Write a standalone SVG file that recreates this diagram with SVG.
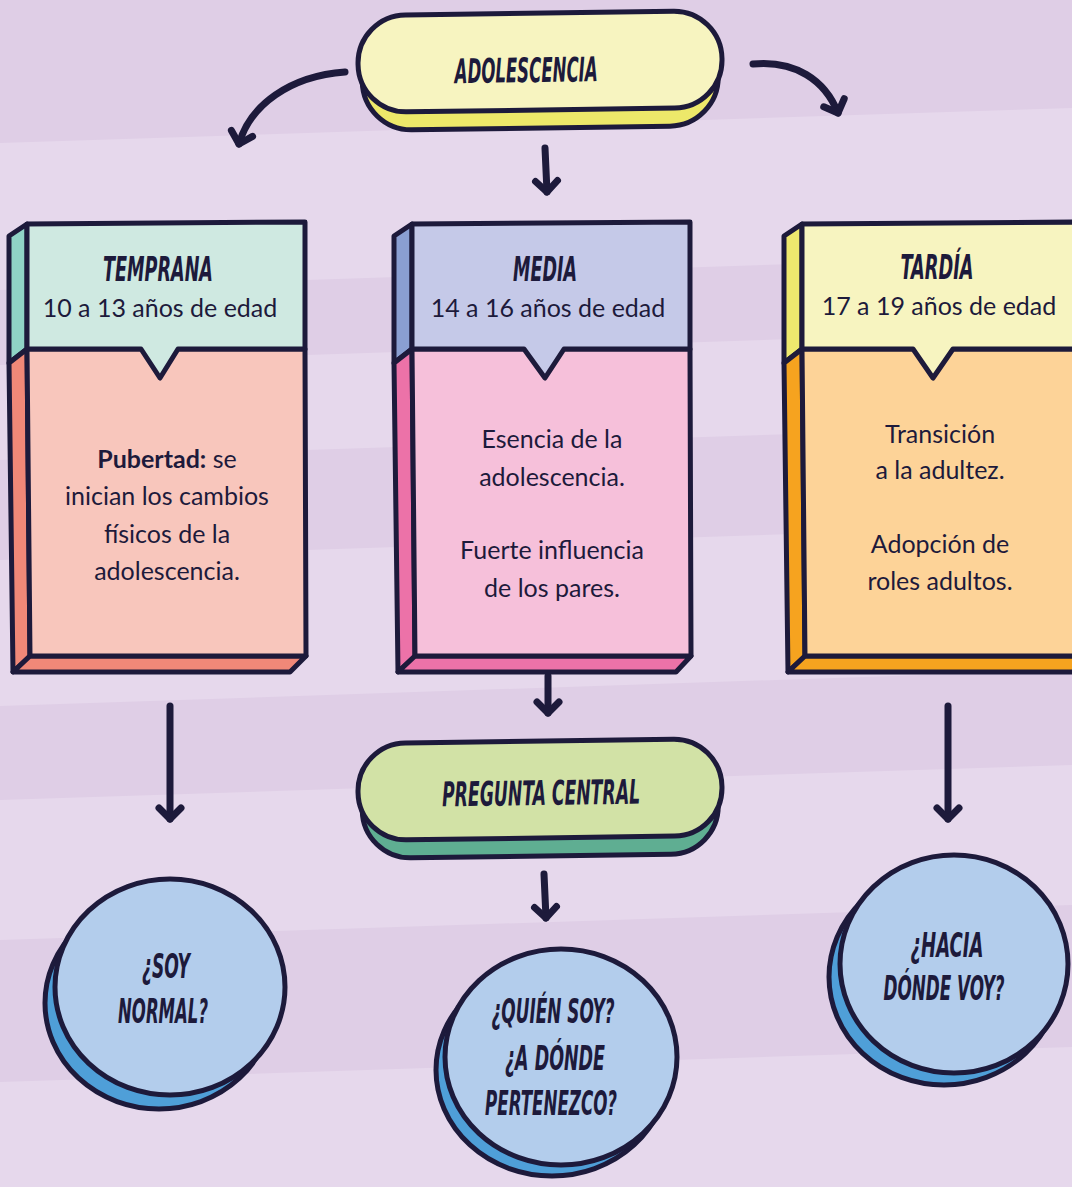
<svg xmlns="http://www.w3.org/2000/svg" width="1072" height="1187" viewBox="0 0 1072 1187">
<defs>
<style>
.st{stroke:#1d1a3b;stroke-width:5;stroke-linejoin:round;stroke-linecap:round}
.h{font-family:"DejaVu Sans Condensed","DejaVu Sans",sans-serif;font-weight:bold;font-style:oblique;font-size:34px;fill:#1d1a3b;text-anchor:middle}
.b{font-family:Lato,"Open Sans",sans-serif;font-size:25px;fill:#1d1a3b;text-anchor:middle}
.bb{font-weight:bold}
.arr{fill:none;stroke:#1d1a3b;stroke-width:7;stroke-linecap:round;stroke-linejoin:round}
.band{fill:#e6d8ec}
</style>
<marker id="chev" viewBox="-16 -16 20 32" refX="0" refY="0" markerWidth="20" markerHeight="32" markerUnits="userSpaceOnUse" orient="auto" overflow="visible">
<path d="M-11,-11 L0,0 L-11,11" fill="none" stroke="#1d1a3b" stroke-width="7" stroke-linecap="round" stroke-linejoin="round"/>
</marker>
</defs>
<rect x="0" y="0" width="1072" height="1187" fill="#dfcee6"/>
<polygon class="band" points="0,143 1072,108 1072,255 0,290"/>
<polygon class="band" points="0,365 1072,330 1072,425 0,460"/>
<polygon class="band" points="0,560 1072,525 1072,670 0,706"/>
<polygon class="band" points="0,800 1072,765 1072,905 0,940"/>
<polygon class="band" points="0,1082 1072,1047 1072,1187 0,1187"/>

<g id="connectors">
<path class="arr" d="M345,72 C290,76 250,105 239,144" marker-end="url(#chev)"/>
<path class="arr" d="M753,64 C795,60 825,80 838,113" marker-end="url(#chev)"/>
<path class="arr" d="M545,148 L547,192" marker-end="url(#chev)"/>
<path class="arr" d="M170,706 L170,819" marker-end="url(#chev)"/>
<path class="arr" d="M548,676 L548,713" marker-end="url(#chev)"/>
<path class="arr" d="M948,706 L948,819" marker-end="url(#chev)"/>
<path class="arr" d="M544,874 L546,918" marker-end="url(#chev)"/>
</g>

<g id="adolescencia" transform="rotate(-0.8 540 60)">
<rect class="st" x="362" y="30" width="356" height="98" rx="49" fill="#ede86a"/>
<rect class="st" x="358" y="13" width="364" height="97" rx="48" fill="#f7f4c0"/>
<text class="h" x="526" y="82" textLength="143" lengthAdjust="spacingAndGlyphs">ADOLESCENCIA</text>
</g>

<g id="temprana">
<polygon class="st" points="27,224 9,236 9,363 27,349" fill="#90d3c6"/>
<polygon class="st" points="27,349 9,363 13,672 30,656" fill="#f08878"/>
<polygon class="st" points="30,656 13,672 290,672 306,656" fill="#f08878"/>
<polygon class="st" points="27,349 305,349 306,656 30,656" fill="#f8c6bc"/>
<polygon class="st" points="27,224 305,222 305,349 178,349 160,378 141,349 27,349" fill="#cfe9e1"/>
<text class="h" x="158" y="281" textLength="110" lengthAdjust="spacingAndGlyphs">TEMPRANA</text>
<text class="b" x="160" y="317">10 a 13 años de edad</text>
<text class="b" x="167" y="468"><tspan class="bb">Pubertad:</tspan> se</text>
<text class="b" x="167" y="505">inician los cambios</text>
<text class="b" x="167" y="543">físicos de la</text>
<text class="b" x="167" y="580">adolescencia.</text>
</g>

<g id="media">
<polygon class="st" points="412,224 394,236 394,363 412,349" fill="#8a9fd2"/>
<polygon class="st" points="412,349 394,363 398,672 415,656" fill="#ec72a8"/>
<polygon class="st" points="415,656 398,672 676,672 691,656" fill="#ec72a8"/>
<polygon class="st" points="412,349 690,349 691,656 415,656" fill="#f6c0da"/>
<polygon class="st" points="412,224 690,222 690,349 564,349 545,378 524,349 412,349" fill="#c5c9e8"/>
<text class="h" x="545" y="281" textLength="64" lengthAdjust="spacingAndGlyphs">MEDIA</text>
<text class="b" x="548" y="317">14 a 16 años de edad</text>
<text class="b" x="552" y="448">Esencia de la</text>
<text class="b" x="552" y="486">adolescencia.</text>
<text class="b" x="552" y="559">Fuerte influencia</text>
<text class="b" x="552" y="597">de los pares.</text>
</g>

<g id="tardia">
<polygon class="st" points="802,224 784,236 784,363 802,349" fill="#eee86e"/>
<polygon class="st" points="802,349 784,363 788,672 805,656" fill="#f6a31f"/>
<polygon class="st" points="805,656 788,672 1080,672 1090,656" fill="#f6a31f"/>
<polygon class="st" points="802,349 1090,349 1090,656 805,656" fill="#fdd398"/>
<polygon class="st" points="802,224 1090,222 1090,349 953,349 933,378 913,349 802,349" fill="#f7f4c0"/>
<text class="h" x="937" y="279" textLength="73" lengthAdjust="spacingAndGlyphs">TARDÍA</text>
<text class="b" x="939" y="315">17 a 19 años de edad</text>
<text class="b" x="940" y="443">Transición</text>
<text class="b" x="940" y="479">a la adultez.</text>
<text class="b" x="940" y="553">Adopción de</text>
<text class="b" x="940" y="590">roles adultos.</text>
</g>

<g id="pregunta" transform="rotate(-0.8 540 790)">
<rect class="st" x="362" y="760" width="356" height="96" rx="48" fill="#5fae92"/>
<rect class="st" x="358" y="741" width="364" height="97" rx="48" fill="#d2e2a6"/>
<text class="h" x="541" y="805" textLength="198" lengthAdjust="spacingAndGlyphs">PREGUNTA CENTRAL</text>
</g>

<g id="soy-normal">
<ellipse class="st" cx="159" cy="1003" rx="114" ry="106" fill="#4f9fd8"/>
<ellipse class="st" cx="170" cy="987" rx="115" ry="108" fill="#b3cdec"/>
<text class="h" x="166" y="978" textLength="48" lengthAdjust="spacingAndGlyphs">¿SOY</text>
<text class="h" x="163" y="1023" textLength="90" lengthAdjust="spacingAndGlyphs">NORMAL?</text>
</g>

<g id="quien-soy">
<ellipse class="st" cx="552" cy="1070" rx="116" ry="106" fill="#4f9fd8"/>
<ellipse class="st" cx="561" cy="1057" rx="116" ry="108" fill="#b3cdec"/>
<text class="h" x="553" y="1023" textLength="123" lengthAdjust="spacingAndGlyphs">¿QUIÉN SOY?</text>
<text class="h" x="555" y="1070" textLength="100" lengthAdjust="spacingAndGlyphs">¿A DÓNDE</text>
<text class="h" x="551" y="1115" textLength="132" lengthAdjust="spacingAndGlyphs">PERTENEZCO?</text>
</g>

<g id="hacia-donde">
<ellipse class="st" cx="944" cy="977" rx="115" ry="108" fill="#4f9fd8"/>
<ellipse class="st" cx="954" cy="964" rx="114" ry="109" fill="#b3cdec"/>
<text class="h" x="947" y="957" textLength="73" lengthAdjust="spacingAndGlyphs">¿HACIA</text>
<text class="h" transform="translate(944 1000) scale(0.55 1)" x="0" y="0">DÓNDE VOY?</text>
</g>
</svg>
